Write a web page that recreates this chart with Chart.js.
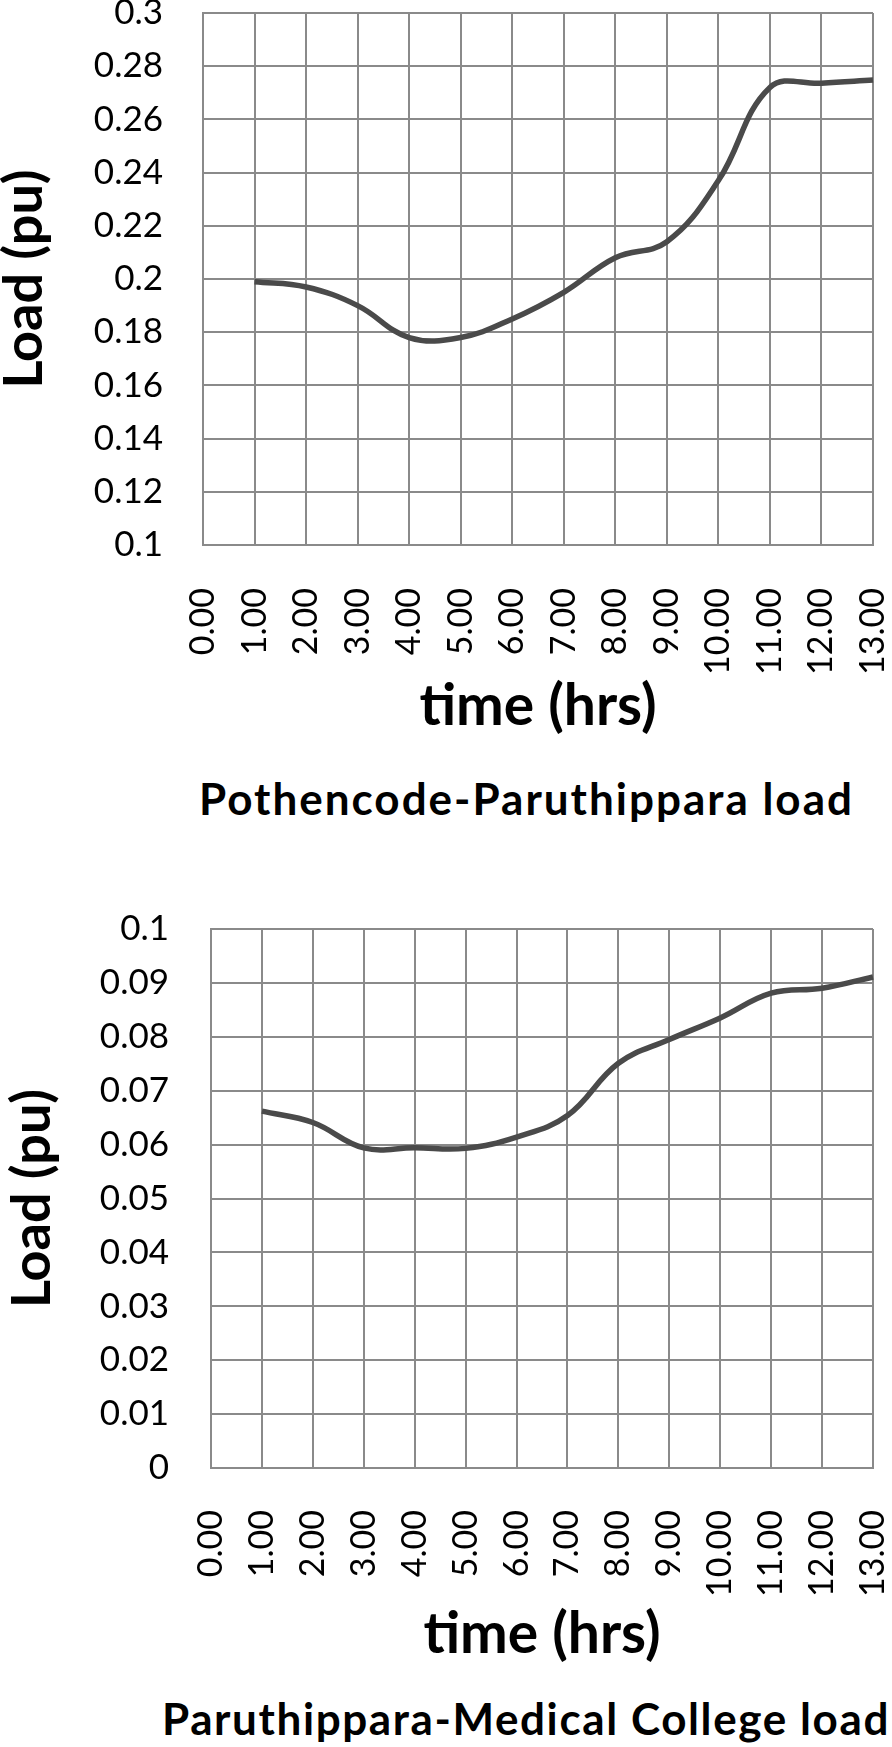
<!DOCTYPE html>
<html>
<head>
<meta charset="utf-8">
<script src="https://cdn.jsdelivr.net/npm/chart.js@4.4.1/dist/chart.umd.min.js"></script>
<style>
  html, body { margin: 0; padding: 0; background: #fff; }
  body { width: 892px; height: 1747px; position: relative; overflow: hidden; font-family: Lato, sans-serif; }
  canvas { position: absolute; left: 0; }
  #topChart { top: 0; }
  #bottomChart { top: 900px; }
  .caption { position: absolute; font-weight: bold; font-size: 44px; line-height: 44px; letter-spacing: 2px; white-space: nowrap; color: #000; }
  #cap1 { left: 199px; top: 776px; }
  #cap2 { left: 162px; top: 1696px; letter-spacing: 1.6px; }
</style>
</head>
<body>
<canvas id="topChart" width="892" height="735"></canvas>
<canvas id="bottomChart" width="892" height="763"></canvas>
<div class="caption" id="cap1">Pothencode-Paruthippara load</div>
<div class="caption" id="cap2">Paruthippara-Medical College load</div>
<script>
// tick labels on the time axis
const hours = ["0.00", "1.00", "2.00", "3.00", "4.00", "5.00", "6.00", "7.00",
  "8.00", "9.00", "10.00", "11.00", "12.00", "13.00"];

// load values (pu), nothing at 0.00
const pothencodeLoad = [null, 0.199, 0.197, 0.190, 0.178, 0.178, 0.185, 0.195,
  0.208, 0.214, 0.237, 0.272, 0.2736, 0.2748];
const medicalCollegeLoad = [null, 0.0662, 0.0641, 0.0594, 0.0594, 0.0593, 0.0614, 0.0654,
  0.0751, 0.0795, 0.0835, 0.0881, 0.0890, 0.0911];

const gridColor = "#8a8a8a";
const lineColor = "#4a4a4a";

function makeChart(id, values, yMin, yMax, yStep, box) {
  const ctx = document.getElementById(id).getContext("2d");
  return new Chart(ctx, {
    type: "line",
    data: {
      labels: hours,
      datasets: [{
        data: values,
        borderColor: lineColor,
        borderWidth: 5.5,
        pointRadius: 0,
        tension: 0.4,
        fill: false
      }]
    },
    options: {
      responsive: false,
      animation: false,
      layout: { padding: { top: box.top, right: 19, left: 0, bottom: 0 } },
      plugins: { legend: { display: false }, tooltip: { enabled: false } },
      scales: {
        x: {
          offset: false,
          grid: { color: gridColor, lineWidth: 2, drawTicks: false },
          border: { color: gridColor, width: 2 },
          ticks: {
            color: "#000",
            font: { family: "Lato", size: 34 },
            minRotation: 90,
            maxRotation: 90,
            autoSkip: false,
            padding: box.xPad
          },
          title: {
            display: true,
            text: "time (hrs)",
            color: "#000",
            font: { family: "Lato", size: 57, weight: "bold", lineHeight: 1 },
            padding: 0
          },
          afterFit: (scale) => {
            scale.height = box.xHeight;
            scale.paddingLeft = 0;
            scale.paddingRight = 0;
          }
        },
        y: {
          min: yMin,
          max: yMax,
          grid: { color: gridColor, lineWidth: 2, drawTicks: false },
          border: { color: gridColor, width: 2 },
          ticks: {
            stepSize: yStep,
            color: "#000",
            font: { family: "Lato", size: 35 },
            padding: box.yPad,
            callback: (v) => String(+v.toFixed(3))
          },
          title: {
            display: true,
            text: "Load (pu)",
            color: "#000",
            font: { family: "Lato", size: 54, weight: "bold", lineHeight: 0.9 },
            padding: { top: box.titleShift, bottom: 0 }
          },
          afterFit: (scale) => {
            scale.width = box.yWidth;
            scale.paddingTop = 0;
            scale.paddingBottom = 0;
          }
        }
      }
    }
  });
}

makeChart("topChart", pothencodeLoad, 0.1, 0.3, 0.02,
  { top: 13, yWidth: 203, yPad: 40, xHeight: 190, xPad: 43, titleShift: 0 });
makeChart("bottomChart", medicalCollegeLoad, 0, 0.1, 0.01,
  { top: 29, yWidth: 211, yPad: 42, xHeight: 195, xPad: 42, titleShift: 8 });
</script>
</body>
</html>
